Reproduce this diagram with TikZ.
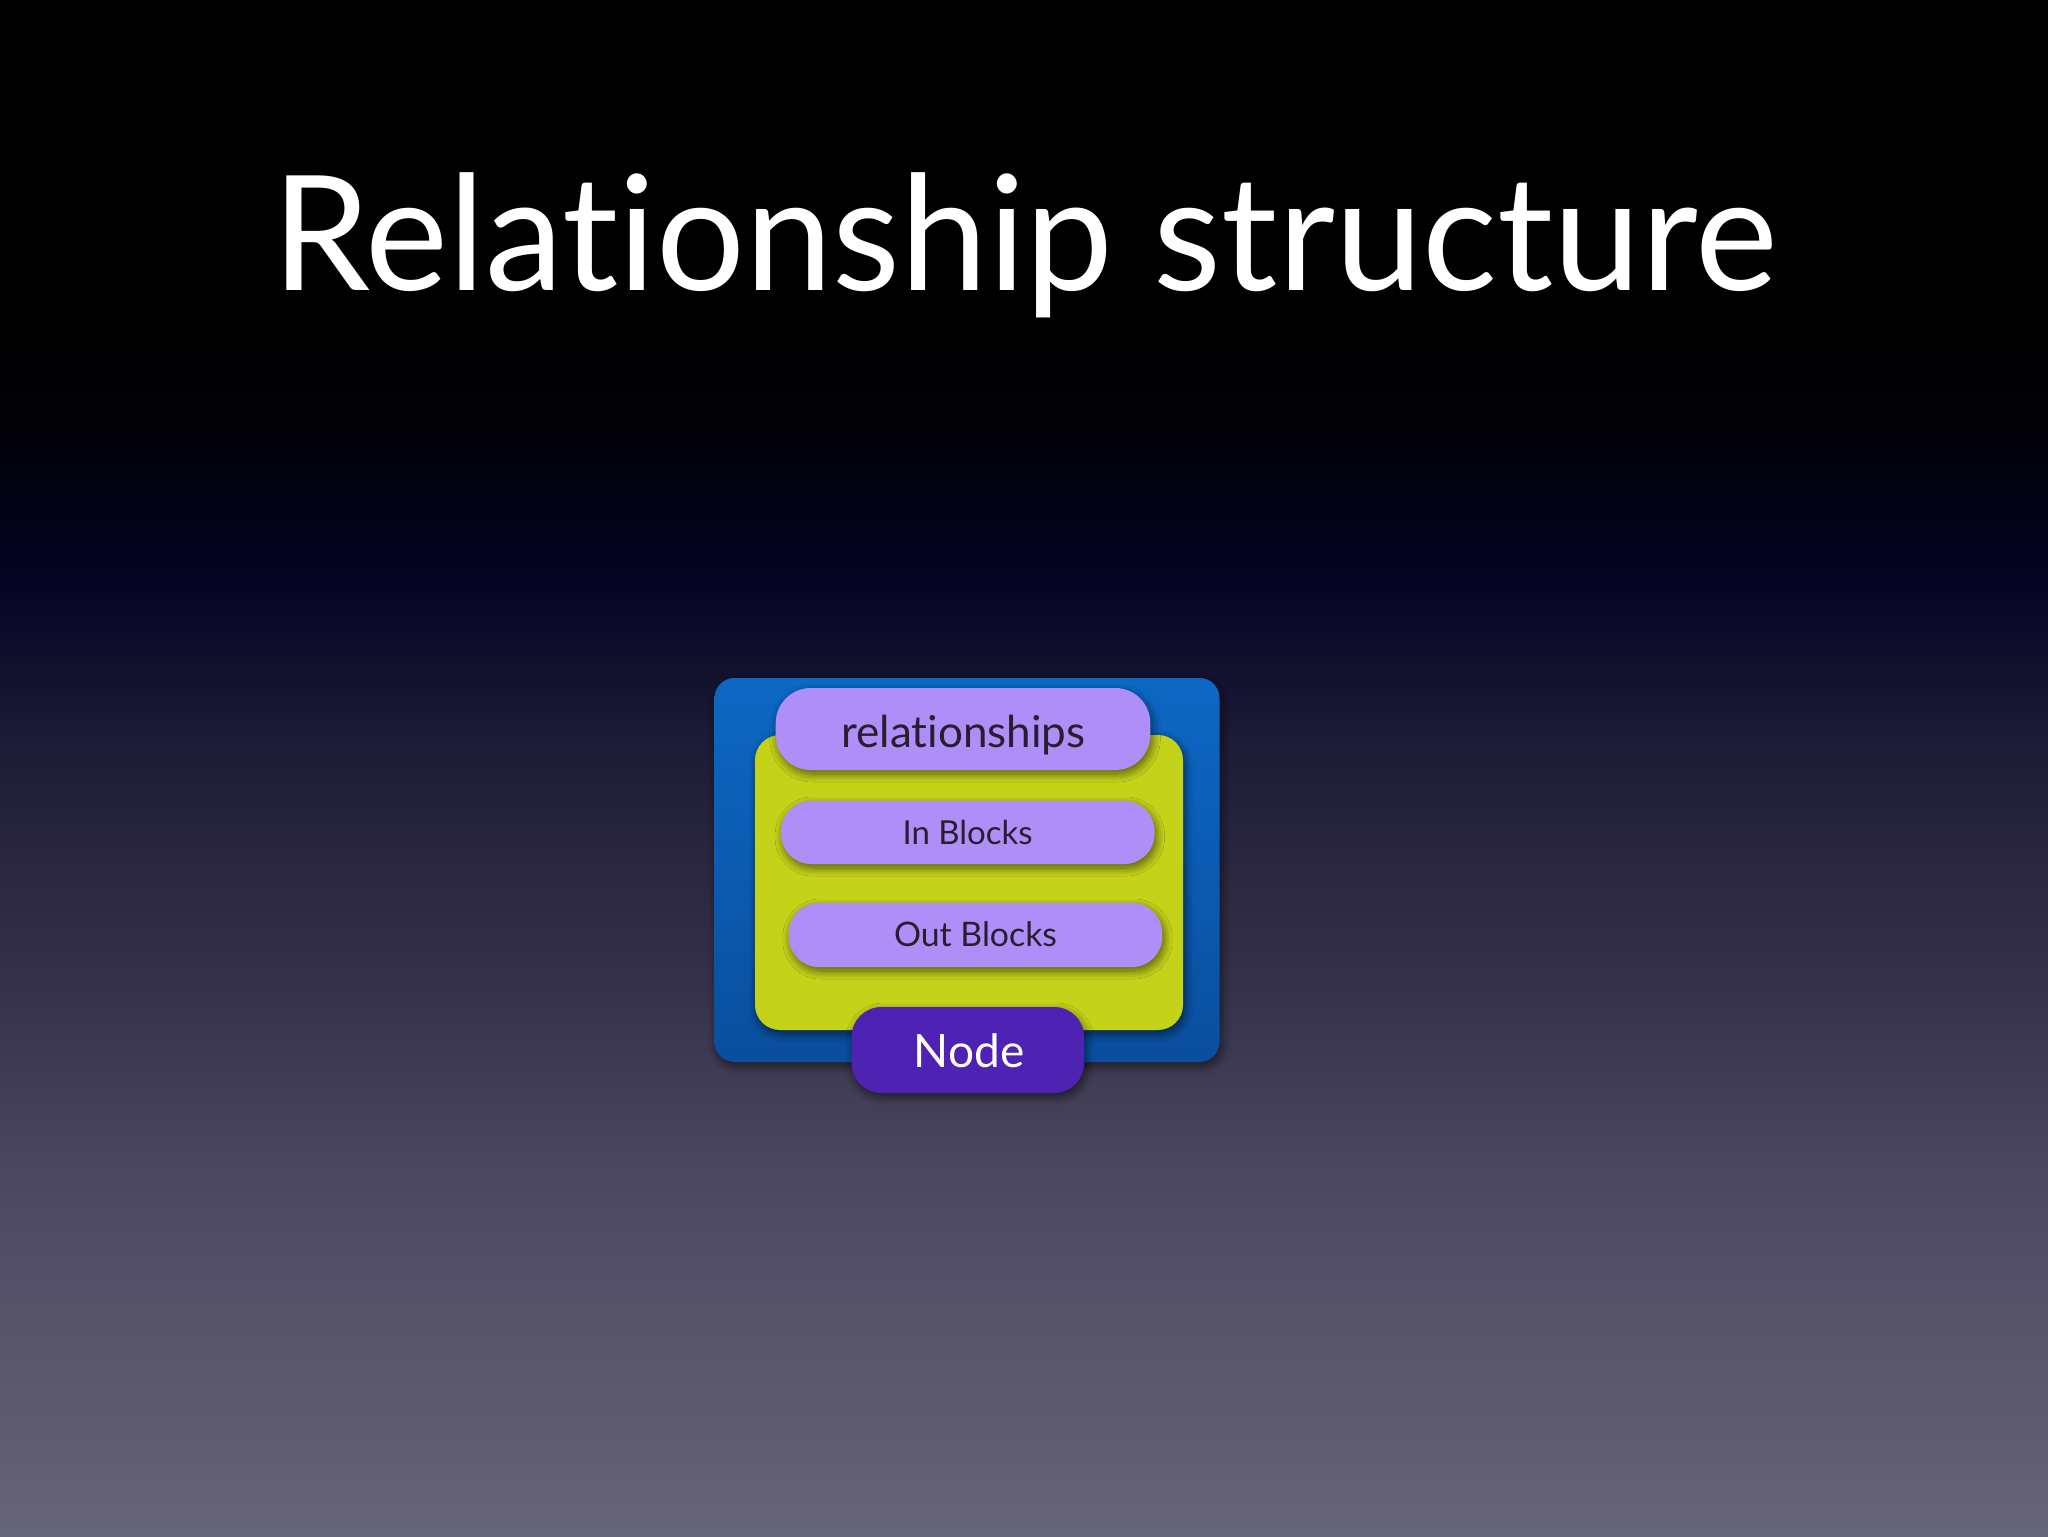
\documentclass[tikz,border=0pt]{standalone}
\usepackage{fontspec}
\setmainfont{Lato}[Ligatures={NoCommon}]
\usetikzlibrary{shadows,shadows.blur}
\definecolor{bgA}{RGB}{102,100,120}
\definecolor{bgB}{RGB}{78,74,98}
\definecolor{bgC}{RGB}{56,51,76}
\definecolor{bgD}{RGB}{30,28,54}
\definecolor{bgE}{RGB}{4,4,36}
\definecolor{bgF}{RGB}{2,2,8}
\definecolor{blueTop}{RGB}{12,104,196}
\definecolor{blueBot}{RGB}{10,78,158}
\definecolor{lime}{RGB}{196,210,26}
\definecolor{lav}{RGB}{176,142,248}
\definecolor{deepPurple}{RGB}{78,34,178}
\definecolor{labelText}{RGB}{40,30,48}
\pgfdeclareverticalshading{bgshade}{100bp}{color(0bp)=(bgA); color(25bp)=(bgA); color(35.9bp)=(bgB); color(42.4bp)=(bgC); color(50.6bp)=(bgD); color(56.1bp)=(bgE); color(61bp)=(bgF); color(65.2bp)=(black); color(100bp)=(black)}
\tikzset{
  panel/.style={rectangle, inner sep=0pt, outer sep=0pt,
    blur shadow={shadow blur steps=10, shadow blur radius=4pt, shadow xshift=1pt, shadow yshift=-2pt, shadow opacity=55}},
  pill/.style={panel, fill=lav, rounded corners=15pt},
  lbl/.style={anchor=base, text=labelText, inner sep=0pt},
}
\begin{document}
\begin{tikzpicture}[x=0.5pt, y=-0.5pt]
\useasboundingbox (0,0) rectangle (2048,1536);
\shade[shading=bgshade] (0,0) rectangle (2048,1536);
\node[anchor=base, text=white, inner sep=0pt, font=\fontsize{80}{96}\selectfont, xscale=0.98] (title) at (1025,290) {Relationship structure};
\node[panel, minimum width=252.5pt, minimum height=192pt, rounded corners=10pt, top color=blueTop, bottom color=blueBot] (outer) at (967,870) {};
\node[panel, minimum width=214pt, minimum height=147.5pt, rounded corners=12.5pt, fill=lime] (inner) at (969,882.5) {};
\node[pill, minimum width=187.3pt, minimum height=41pt, rounded corners=17.5pt] (relbox) at (963,729) {};
\node[pill, minimum width=186.7pt, minimum height=31.5pt] (inbox) at (967.8,832.5) {};
\node[pill, minimum width=186.7pt, minimum height=32pt] (outbox) at (975.5,935) {};
\node[panel, minimum width=116.3pt, minimum height=43pt, rounded corners=15pt, fill=deepPurple] (nodebox) at (967.8,1050) {};
\node[lbl, font=\fontsize{22}{26}\selectfont] (rellbl) at (963.5,747) {relationships};
\node[lbl, font=\fontsize{16.5}{20}\selectfont] (inlbl) at (967.6,844) {In Blocks};
\node[lbl, font=\fontsize{16.9}{20}\selectfont] (outlbl) at (975.5,946) {Out Blocks};
\node[lbl, text=white, font=\fontsize{23}{27}\selectfont] (nodelbl) at (969,1067) {Node};
\end{tikzpicture}
\end{document}
